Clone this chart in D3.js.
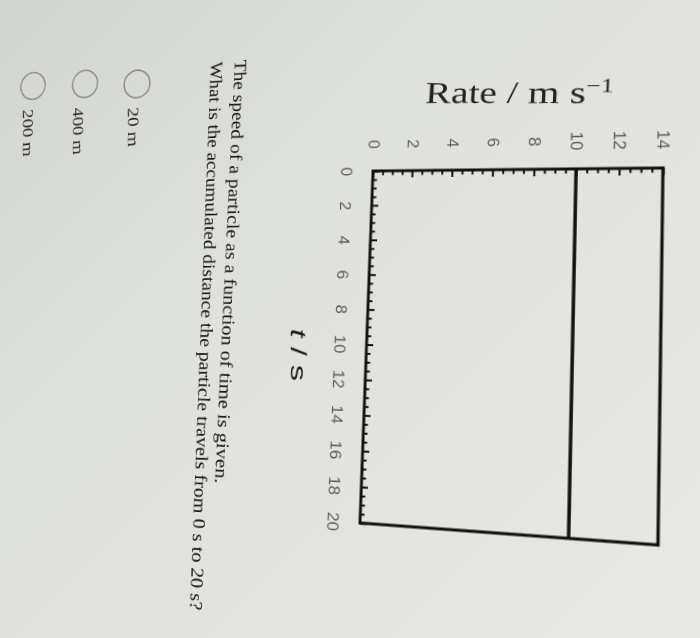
<!DOCTYPE html>
<html><head><meta charset="utf-8">
<script src="https://cdn.jsdelivr.net/npm/d3@7"></script>
<style>
html,body{margin:0;padding:0;width:700px;height:638px;overflow:hidden;}
body{background: linear-gradient(135deg,#d2d4cf 0%,#dfe1dc 40%,#e8e8e5 100%);}
#wrap{position:absolute;left:0;top:0;width:700px;height:638px;transform-origin:0 0;}
svg{overflow:visible;display:block;}
</style></head><body>
<div id="wrap"></div>
<script>
// ---- data ----
const rateTicks = [0, 2, 4, 6, 8, 10, 12, 14];
const timeTicks = [0, 2, 4, 6, 8, 10, 12, 14, 16, 18, 20];
const timeValues = [0, 20];
const rateValues = [10, 10];
const rateTitle = "Rate / m s";
const rateTitleSup = "\u22121";
const timeTitle = ["t", " / s"];
const questionLines = [
  "The speed of a particle as a function of time is given.",
  "What is the accumulated distance the particle travels from 0 s to 20 s?"
];
const options = ["20 m", "400 m", "200 m"];

// ---- perspective of the photo (ideal layout -> photographed page) ----
const idealCorners = [[373,171],[663,171],[373,530],[663,530]];
const photoCorners = [[373,171],[663,168],[360,523],[658,545]];
function solve(A, b) {
  const n = b.length, M = A.map((r, i) => r.concat([b[i]]));
  for (let c = 0; c < n; c++) {
    let p = c;
    for (let r = c + 1; r < n; r++) if (Math.abs(M[r][c]) > Math.abs(M[p][c])) p = r;
    [M[c], M[p]] = [M[p], M[c]];
    for (let r = 0; r < n; r++) {
      if (r === c) continue;
      const f = M[r][c] / M[c][c];
      for (let k = c; k <= n; k++) M[r][k] -= f * M[c][k];
    }
  }
  return M.map((r, i) => r[n] / r[i]);
}
function homography(src, dst) {
  const A = [], b = [];
  for (let i = 0; i < 4; i++) {
    const [u, v] = src[i], [x, y] = dst[i];
    A.push([u, v, 1, 0, 0, 0, -u * x, -v * x]); b.push(x);
    A.push([0, 0, 0, u, v, 1, -u * y, -v * y]); b.push(y);
  }
  const h = solve(A, b);
  return [[h[0], h[1], h[2]], [h[3], h[4], h[5]], [h[6], h[7], 1]];
}
const H = homography(idealCorners, photoCorners);
const Hi = homography(photoCorners, idealCorners);
function inv(p) {
  const m = Hi, x = p[0], y = p[1];
  const w = m[2][0] * x + m[2][1] * y + m[2][2];
  return [(m[0][0] * x + m[0][1] * y + m[0][2]) / w, (m[1][0] * x + m[1][1] * y + m[1][2]) / w];
}
const wrap = document.getElementById("wrap");
wrap.style.transform = `matrix3d(${H[0][0]},${H[1][0]},0,${H[2][0]},${H[0][1]},${H[1][1]},0,${H[2][1]},0,0,1,0,${H[0][2]},${H[1][2]},0,1)`;

const svg = d3.select("#wrap").append("svg").attr("width", 700).attr("height", 638);

// ---- scales ----
const x = d3.scaleLinear().domain([0, 14]).range([373, 663]);
const y = d3.scaleLinear().domain([0, 20]).range([171, 530]);

const tickFont = "'Liberation Sans', Arial, sans-serif";
const serif = "'Liberation Serif', 'Times New Roman', serif";

// rate axis (top edge, ticks inward)
const minorRate = d3.range(0, 14.001, 0.5).filter(v => v % 2 !== 0);
svg.append("g").attr("transform", "translate(0,171)")
  .call(d3.axisTop(x).tickValues(minorRate).tickSizeInner(-4.5).tickSizeOuter(0).tickFormat(""))
  .call(g => g.select(".domain").remove())
  .call(g => g.selectAll("line").attr("stroke", "#111").attr("stroke-width", 2));
const gRate = svg.append("g").attr("transform", "translate(0,171)")
  .call(d3.axisTop(x).tickValues(rateTicks).tickSizeInner(-7).tickSizeOuter(0).tickFormat(d3.format("d")))
  .call(g => g.select(".domain").remove())
  .call(g => g.selectAll("line").attr("stroke", "#111").attr("stroke-width", 2));
gRate.selectAll("text")
  .attr("x", 0).attr("y", 0).attr("dy", null)
  .attr("transform", "translate(0,-28) rotate(90)")
  .attr("text-anchor", "middle").attr("dominant-baseline", "central")
  .attr("font-family", tickFont).attr("font-size", 17).attr("fill", "#5a5a5a");

// time axis (left edge, ticks inward)
const minorTime = d3.range(0, 20.001, 0.5).filter(v => v % 2 !== 0);
svg.append("g").attr("transform", "translate(373,0)")
  .call(d3.axisLeft(y).tickValues(minorTime).tickSizeInner(-4.5).tickSizeOuter(0).tickFormat(""))
  .call(g => g.select(".domain").remove())
  .call(g => g.selectAll("line").attr("stroke", "#111").attr("stroke-width", 2));
const gTime = svg.append("g").attr("transform", "translate(373,0)")
  .call(d3.axisLeft(y).tickValues(timeTicks).tickSizeInner(-7).tickSizeOuter(0).tickFormat(d3.format("d")))
  .call(g => g.select(".domain").remove())
  .call(g => g.selectAll("line").attr("stroke", "#111").attr("stroke-width", 2));
gTime.selectAll("text")
  .attr("x", 0).attr("y", 0).attr("dy", null)
  .attr("transform", "translate(-28,0) rotate(90)")
  .attr("text-anchor", "middle").attr("dominant-baseline", "central")
  .attr("font-family", tickFont).attr("font-size", 17).attr("fill", "#5a5a5a");

// plot frame
svg.append("rect")
  .attr("x", x(0)).attr("y", y(0))
  .attr("width", x(14) - x(0)).attr("height", y(20) - y(0))
  .attr("fill", "none").attr("stroke", "#111").attr("stroke-width", 3);

// data line
const series = timeValues.map((t, i) => ({ time: t, rate: rateValues[i] }));
svg.append("path").datum(series)
  .attr("d", d3.line().x(d => x(d.rate)).y(d => y(d.time)))
  .attr("fill", "none").attr("stroke", "#111").attr("stroke-width", 3.4);

// ---- text helper: place a text between two photographed baseline points ----
function fitText(a0, a1, size, family, fill, build) {
  const p0 = inv(a0), p1 = inv(a1);
  const ang = Math.atan2(p1[1] - p0[1], p1[0] - p0[0]) * 180 / Math.PI;
  const L = Math.hypot(p1[0] - p0[0], p1[1] - p0[1]);
  const t = svg.append("text").attr("font-size", size).attr("font-family", family).attr("fill", fill);
  build(t);
  const len = t.node().getComputedTextLength();
  t.attr("transform", `translate(${p0[0]},${p0[1]}) rotate(${ang}) scale(${L / len},1)`);
  return t;
}

// y (rate) title
fitText([425, 103], [613, 103], 32, serif, "#222", t => {
  t.append("tspan").text(rateTitle);
  t.append("tspan").attr("dy", "-0.55em").attr("font-size", "0.62em").text(rateTitleSup);
});

// x (time) title
fitText([291, 329], [291, 381], 24, tickFont, "#1a1a1a", t => {
  t.append("tspan").attr("font-style", "italic").text(timeTitle[0]);
  t.append("tspan").text(timeTitle[1]);
});

// question text
const qPos = [[[235, 60], [215, 483]], [[211, 62], [190, 610]]];
questionLines.forEach((s, i) => {
  fitText(qPos[i][0], qPos[i][1], 20, serif, "#151515", t => t.text(s));
});

// options
const circlePos = [[137, 84], [85, 84], [33, 86]];
const labelPos = [[[128, 108], [128, 147]], [[73, 108], [73, 155]], [[23, 110], [23, 157]]];
options.forEach((s, i) => {
  const c = inv(circlePos[i]);
  svg.append("circle").attr("cx", c[0]).attr("cy", c[1]).attr("r", 15.5)
    .attr("fill", "none").attr("stroke", "#8a8a8a").attr("stroke-width", 1.7);
  fitText(labelPos[i][0], labelPos[i][1], 19, serif, "#2a2a2a", t => t.text(s));
});
</script>
</body></html>
